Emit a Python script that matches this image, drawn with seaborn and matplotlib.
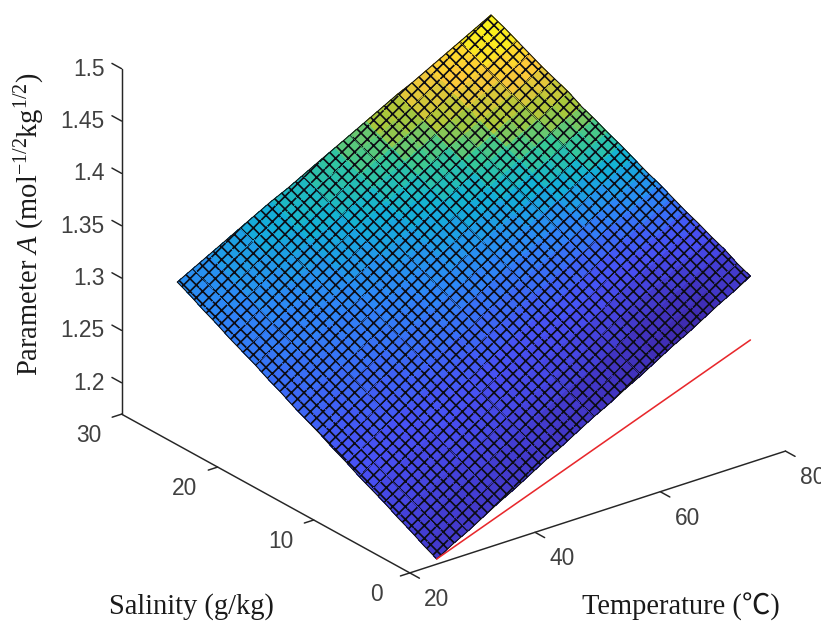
import numpy as np
import matplotlib
matplotlib.use("Agg")
import matplotlib.pyplot as plt
import seaborn as sns

sns.set_theme(style="white")
plt.rcParams['mathtext.fontset'] = 'custom'
plt.rcParams['mathtext.rm'] = 'Liberation Serif'
plt.rcParams['mathtext.it'] = 'Liberation Serif:italic'
plt.rcParams['hatch.linewidth'] = 1.6

# values
temperature = [24.3, 26.8, 29.3, 31.8, 34.3, 36.8, 39.3, 41.8, 44.3, 46.8, 49.35,
               51.9, 54.4, 56.9, 59.4, 61.9, 64.4, 66.9, 69.4, 71.9, 74.4]
salinity = [0, 1.35, 2.7, 4.05, 5.4, 6.75, 8.1, 9.45, 10.8, 12.15, 13.5,
            14.85, 16.2, 17.55, 18.9, 20.25, 21.6, 22.95, 24.3, 25.65, 27]
param_a = [
    [1.175, 1.184, 1.192, 1.201, 1.210, 1.218, 1.227, 1.236, 1.244, 1.253, 1.262, 1.270, 1.279, 1.287, 1.296, 1.305, 1.313, 1.322, 1.331, 1.339, 1.348],
    [1.181, 1.190, 1.198, 1.207, 1.216, 1.224, 1.233, 1.241, 1.250, 1.259, 1.267, 1.276, 1.284, 1.293, 1.302, 1.310, 1.319, 1.327, 1.336, 1.345, 1.353],
    [1.188, 1.197, 1.205, 1.214, 1.222, 1.231, 1.239, 1.248, 1.257, 1.265, 1.274, 1.282, 1.291, 1.300, 1.308, 1.317, 1.325, 1.334, 1.342, 1.351, 1.360],
    [1.194, 1.203, 1.211, 1.220, 1.228, 1.237, 1.245, 1.254, 1.262, 1.271, 1.279, 1.288, 1.297, 1.305, 1.314, 1.322, 1.331, 1.339, 1.348, 1.356, 1.365],
    [1.201, 1.209, 1.218, 1.226, 1.235, 1.243, 1.252, 1.260, 1.269, 1.277, 1.286, 1.294, 1.303, 1.311, 1.320, 1.328, 1.337, 1.345, 1.354, 1.362, 1.371],
    [1.207, 1.215, 1.224, 1.232, 1.241, 1.249, 1.258, 1.266, 1.275, 1.283, 1.292, 1.300, 1.309, 1.317, 1.325, 1.334, 1.342, 1.351, 1.359, 1.368, 1.376],
    [1.213, 1.221, 1.230, 1.238, 1.247, 1.255, 1.264, 1.272, 1.280, 1.289, 1.297, 1.306, 1.314, 1.323, 1.331, 1.339, 1.348, 1.356, 1.365, 1.373, 1.382],
    [1.220, 1.228, 1.237, 1.245, 1.254, 1.262, 1.270, 1.279, 1.287, 1.296, 1.304, 1.312, 1.321, 1.329, 1.337, 1.346, 1.354, 1.363, 1.371, 1.379, 1.388],
    [1.226, 1.234, 1.243, 1.251, 1.259, 1.268, 1.276, 1.284, 1.293, 1.301, 1.310, 1.318, 1.326, 1.335, 1.343, 1.351, 1.360, 1.368, 1.376, 1.385, 1.393],
    [1.233, 1.241, 1.250, 1.258, 1.266, 1.274, 1.283, 1.291, 1.299, 1.308, 1.316, 1.324, 1.333, 1.341, 1.349, 1.358, 1.366, 1.374, 1.383, 1.391, 1.399],
    [1.239, 1.247, 1.256, 1.264, 1.272, 1.280, 1.289, 1.297, 1.305, 1.314, 1.322, 1.330, 1.338, 1.347, 1.355, 1.363, 1.371, 1.380, 1.388, 1.396, 1.405],
    [1.245, 1.253, 1.262, 1.270, 1.278, 1.286, 1.294, 1.303, 1.311, 1.319, 1.327, 1.336, 1.344, 1.352, 1.360, 1.369, 1.377, 1.385, 1.393, 1.402, 1.410],
    [1.252, 1.260, 1.268, 1.277, 1.285, 1.293, 1.301, 1.309, 1.318, 1.326, 1.334, 1.342, 1.350, 1.359, 1.367, 1.375, 1.383, 1.391, 1.400, 1.408, 1.416],
    [1.258, 1.266, 1.274, 1.282, 1.291, 1.299, 1.307, 1.315, 1.323, 1.331, 1.340, 1.348, 1.356, 1.364, 1.372, 1.380, 1.389, 1.397, 1.405, 1.413, 1.421],
    [1.265, 1.273, 1.281, 1.289, 1.298, 1.306, 1.314, 1.322, 1.330, 1.338, 1.346, 1.354, 1.363, 1.371, 1.379, 1.387, 1.395, 1.403, 1.411, 1.419, 1.428],
    [1.271, 1.279, 1.287, 1.295, 1.303, 1.311, 1.320, 1.328, 1.336, 1.344, 1.352, 1.360, 1.368, 1.376, 1.384, 1.392, 1.400, 1.409, 1.417, 1.425, 1.433],
    [1.277, 1.285, 1.293, 1.301, 1.309, 1.317, 1.325, 1.333, 1.341, 1.349, 1.358, 1.366, 1.374, 1.382, 1.390, 1.398, 1.406, 1.414, 1.422, 1.430, 1.438],
    [1.284, 1.292, 1.300, 1.308, 1.316, 1.324, 1.332, 1.340, 1.348, 1.356, 1.364, 1.372, 1.380, 1.388, 1.396, 1.404, 1.412, 1.420, 1.428, 1.436, 1.444],
    [1.290, 1.298, 1.306, 1.314, 1.322, 1.330, 1.338, 1.346, 1.354, 1.362, 1.370, 1.378, 1.386, 1.394, 1.402, 1.410, 1.418, 1.426, 1.434, 1.442, 1.450],
    [1.297, 1.305, 1.313, 1.321, 1.329, 1.337, 1.345, 1.353, 1.361, 1.368, 1.376, 1.384, 1.392, 1.400, 1.408, 1.416, 1.424, 1.432, 1.440, 1.448, 1.456],
    [1.303, 1.311, 1.319, 1.327, 1.335, 1.343, 1.351, 1.358, 1.366, 1.374, 1.382, 1.390, 1.398, 1.406, 1.414, 1.421, 1.429, 1.437, 1.445, 1.453, 1.461],
]
# colour level of each cell, 0 = dark blue, 1 = yellow
color_level = [
    [.07, .07, .07, .07, .07, .07, .07, .07, .06, .06, .05, .05, .04, .04, .03, .02, .02, .03, .06, .07],
    [.08, .08, .08, .08, .08, .08, .08, .08, .07, .07, .06, .06, .05, .05, .04, .04, .04, .05, .07, .08],
    [.09, .09, .09, .09, .10, .10, .10, .10, .10, .10, .09, .09, .08, .08, .07, .07, .07, .08, .10, .11],
    [.11, .11, .11, .11, .12, .12, .12, .12, .12, .12, .11, .11, .10, .10, .10, .10, .10, .11, .13, .14],
    [.12, .12, .12, .12, .13, .13, .13, .13, .13, .13, .13, .13, .13, .13, .13, .13, .14, .15, .16, .17],
    [.14, .14, .14, .14, .15, .15, .15, .15, .15, .15, .15, .15, .16, .16, .16, .16, .17, .18, .21, .22],
    [.15, .15, .15, .15, .16, .16, .17, .17, .18, .18, .18, .18, .19, .19, .19, .20, .21, .23, .26, .27],
    [.16, .16, .17, .17, .18, .18, .19, .19, .20, .20, .21, .21, .22, .22, .23, .24, .26, .28, .31, .33],
    [.17, .17, .18, .18, .19, .20, .21, .22, .23, .23, .24, .24, .25, .26, .27, .28, .31, .33, .36, .38],
    [.19, .19, .20, .20, .21, .22, .23, .24, .25, .26, .27, .28, .29, .30, .31, .32, .36, .38, .42, .44],
    [.20, .20, .21, .22, .23, .24, .25, .26, .28, .29, .30, .31, .32, .33, .36, .38, .42, .45, .50, .52],
    [.21, .22, .23, .24, .25, .26, .27, .28, .30, .31, .33, .34, .36, .37, .41, .43, .48, .51, .56, .59],
    [.22, .23, .24, .25, .26, .27, .29, .30, .32, .33, .36, .37, .40, .42, .46, .48, .54, .57, .62, .65],
    [.24, .25, .26, .27, .28, .29, .31, .32, .35, .36, .39, .40, .44, .46, .52, .54, .60, .63, .68, .71],
    [.25, .26, .27, .28, .30, .31, .34, .35, .38, .39, .42, .44, .49, .51, .57, .59, .66, .69, .73, .76],
    [.26, .27, .29, .30, .32, .33, .37, .38, .41, .42, .46, .48, .53, .55, .62, .65, .72, .74, .79, .81],
    [.27, .28, .31, .32, .35, .36, .39, .40, .44, .46, .50, .52, .58, .60, .67, .70, .77, .79, .84, .86],
    [.29, .30, .33, .34, .37, .39, .43, .44, .48, .50, .54, .56, .63, .65, .73, .75, .82, .84, .88, .90],
    [.30, .31, .35, .36, .40, .42, .46, .47, .51, .53, .59, .61, .68, .70, .78, .80, .86, .88, .93, .95],
    [.31, .32, .36, .37, .41, .42, .47, .48, .53, .55, .61, .63, .71, .73, .81, .83, .88, .90, .95, .97],
]
red_temp = [24.3, 74.4]
red_a = [1.175, 1.287]

t_ticks = [20, 40, 60, 80]
s_ticks = [0, 10, 20, 30]
a_ticks = [1.2, 1.25, 1.3, 1.35, 1.4, 1.45, 1.5]
a_labels = ['1.2', '1.25', '1.3', '1.35', '1.4', '1.45', '1.5']

parula = sns.blend_palette(['#3e26a8', '#4850f4', '#2d87f7', '#12b1d6', '#37c897',
                            '#abc739', '#fdc73a', '#f9fb15'], as_cmap=True)

DPI = 76
fig = plt.figure(figsize=(821.01 / DPI, 621.01 / DPI), dpi=DPI)
ax = fig.add_axes([69.4 / 821, -23 / 621, 748 / 821, 748 / 621], projection='3d',
                  proj_type='ortho', computed_zorder=False)
ax.view_init(elev=25, azim=-127.5)
ax.set_box_aspect((1, 1, 0.805))
ax.set_xlim(20, 80)
ax.set_ylim(0, 30)
ax.set_zlim(1.17, 1.5)
ax.set_axis_off()
ax.patch.set_alpha(0)

T, S = np.meshgrid(temperature, salinity)
A = np.array(param_a)
surf = ax.plot_surface(T, S, A, rstride=1, cstride=1, facecolors=parula(np.array(color_level)),
                       shade=False, linewidth=0, antialiased=False, hatch='xx', zorder=2)
surf.set_edgecolor('#0c0c14')  # also the mesh colour

# black outline of the sheet
line_kw = dict(color='#111111', lw=1.0, zorder=3)
ax.plot(T[0], S[0], A[0], **line_kw)
ax.plot(T[-1], S[-1], A[-1], **line_kw)
ax.plot(T[:, 0], S[:, 0], A[:, 0], **line_kw)
ax.plot(T[:, -1], S[:, -1], A[:, -1], **line_kw)

ax.plot(red_temp, [0, 0], red_a, color='#e8282c', lw=1.5, zorder=4)

# axis lines, ticks and tick labels
axis_kw = dict(color='#262626', lw=1.4, zorder=1)
z0 = 1.17
ax.plot([20, 80], [0, 0], [z0, z0], **axis_kw)
ax.plot([20, 20], [0, 30], [z0, z0], **axis_kw)
ax.plot([20, 20], [30, 30], [z0, 1.5], **axis_kw)

text_kw = dict(color='#404040', family='Liberation Sans', fontsize=21.5)
for t in t_ticks:
    ax.plot([t, t], [0, -1], [z0, z0], **axis_kw)
    ax.text(t, -2.8, z0 - 0.011, str(t), ha='center', va='center', **text_kw)
for s in s_ticks:
    ax.plot([20, 18.5], [s, s], [z0, z0], **axis_kw)
    ax.text(14.7, s, z0 - 0.01, str(s), ha='center', va='center', **text_kw)
for a, lab in zip(a_ticks, a_labels):
    ax.plot([20, 20], [30, 31], [a, a], **axis_kw)
    ax.text(20, 31.8, a - 0.0095, lab, ha='right', va='center', **text_kw)

label_kw = dict(color='#1a1a1a', fontsize=27, ha='center', va='center')
fig.text(191 / 821, 1 - 607 / 621, 'Salinity (g/kg)', family='Liberation Serif', **label_kw)
fig.text(681 / 821, 1 - 607 / 621, 'Temperature (\u2103)',
         family=['Liberation Serif', 'Noto Sans CJK SC'], **label_kw)
fig.text(30 / 821, 1 - 224 / 621, r'Parameter $\mathit{A}$ (mol$^{-1/2}$kg$^{1/2}$)',
         family='Liberation Serif', rotation=90, **label_kw)

fig.savefig('out.png', dpi=DPI)
